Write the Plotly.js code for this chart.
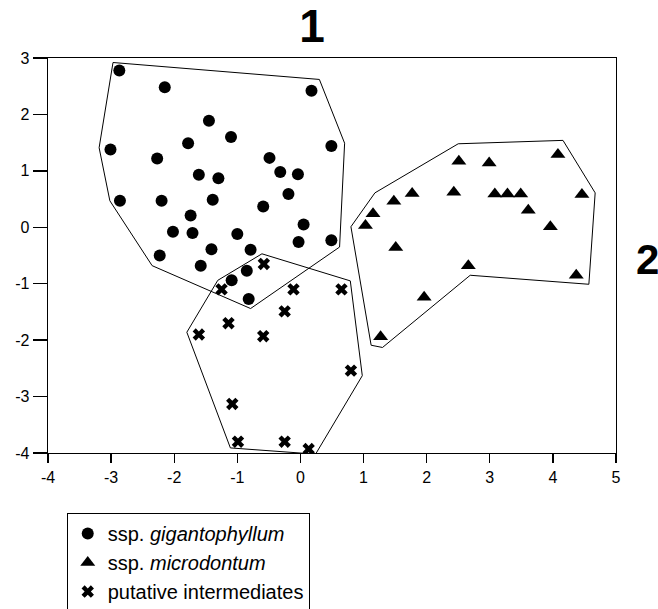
<!DOCTYPE html>
<html>
<head>
<meta charset="utf-8">
<script src="https://cdn.plot.ly/plotly-3.0.1.min.js"></script>
<style>html,body{margin:0;padding:0;background:#fff;}#chart{width:658px;height:609px;}</style>
</head>
<body>
<div id="chart"></div>
<script>
// ssp. gigantophyllum (circles)
var gigX = [-2.87,-2.15,0.175,-1.45,-1.10,-1.78,-3.01,0.49,-2.27,-0.49,-0.32,-0.04,-1.61,-1.30,-0.19,-2.86,-2.20,-1.39,-0.59,-1.74,0.05,-2.02,-1.71,-1.00,-0.03,0.49,-1.41,-0.79,-2.23,-1.58,-0.85,-1.09,-0.82];
var gigY = [2.78,2.48,2.42,1.89,1.60,1.49,1.38,1.44,1.22,1.23,0.98,0.94,0.93,0.87,0.59,0.47,0.47,0.49,0.37,0.21,0.05,-0.08,-0.10,-0.12,-0.26,-0.23,-0.39,-0.40,-0.50,-0.68,-0.77,-0.94,-1.27];
// ssp. microdontum (triangles)
var micX = [2.51,2.99,4.08,1.77,2.43,3.08,3.28,3.49,4.46,1.48,1.15,3.61,1.03,3.96,1.51,2.66,4.37,1.96,1.27];
var micY = [1.17,1.14,1.29,0.60,0.62,0.59,0.59,0.59,0.58,0.46,0.24,0.30,0.03,0.01,-0.36,-0.68,-0.85,-1.24,-1.94];
// putative intermediates (crosses)
var intX = [-0.58,-1.25,-0.11,0.65,-0.25,-1.14,-1.61,-0.59,0.80,-1.08,-0.99,-0.25,0.13];
var intY = [-0.65,-1.10,-1.10,-1.10,-1.49,-1.70,-1.90,-1.93,-2.54,-3.13,-3.80,-3.80,-3.93];
// convex hulls
var gigHullX = [-2.97,0.30,0.70,0.62,-0.79,-2.35,-3.02,-3.19,-2.97];
var gigHullY = [2.92,2.62,1.49,-0.35,-1.44,-0.68,0.47,1.41,2.92];
var micHullX = [2.50,4.16,4.67,4.57,2.69,1.30,1.12,0.80,1.18,2.50];
var micHullY = [1.48,1.54,0.61,-1.01,-0.85,-2.13,-2.09,0.01,0.61,1.48];
var intHullX = [-0.61,0.79,0.98,0.24,-1.11,-1.80,-1.31,-0.61];
var intHullY = [-0.47,-0.95,-2.63,-4.02,-3.91,-1.86,-0.94,-0.47];
// tick values and labels
var xTicks = [-4,-3,-2,-1,0,1,2,3,4,5];
var xTickText = ['-4','-3','-2','-1','0','1','2','3','4','5'];
var yTicks = [-4,-3,-2,-1,0,1,2,3];
var yTickText = ['-4','-3','-2','-1','0','1','2','3'];
var names = ['ssp. <i>gigantophyllum</i>','ssp. <i>microdontum</i>','putative intermediates'];

var FONT = '"Liberation Sans", Arial, Helvetica, sans-serif';
function hull(x,y){return {x:x,y:y,type:'scatter',mode:'lines',line:{color:'#000',width:1},showlegend:false,hoverinfo:'skip'};}
var data = [
  hull(gigHullX,gigHullY), hull(micHullX,micHullY), hull(intHullX,intHullY),
  {x:gigX,y:gigY,type:'scatter',mode:'markers',name:names[0],marker:{symbol:'circle',size:12,color:'#000'}},
  {x:micX,y:micY,type:'scatter',mode:'markers',name:names[1],marker:{symbol:'triangle-up',size:13,color:'#000'}},
  {x:intX,y:intY,type:'scatter',mode:'markers',name:names[2],marker:{symbol:'x',size:11,color:'#000',line:{width:0}}}
];
var axisCommon = {showgrid:false,zeroline:false,showline:true,linecolor:'#000',linewidth:1.3,mirror:true,
  ticks:'outside',tickcolor:'#000',tickwidth:1.3,tickfont:{family:FONT,size:16,color:'#000'},fixedrange:true};
var layout = {
  width:658,height:609,
  margin:{l:48,r:42,t:58,b:156,autoexpand:false},
  paper_bgcolor:'#fff',plot_bgcolor:'#fff',
  font:{family:FONT,color:'#000'},
  title:{text:'<b>1</b>',font:{family:FONT,size:46,color:'#000'},xref:'paper',x:0.465,xanchor:'center',yref:'container',y:0.957,yanchor:'middle'},
  xaxis:Object.assign({},axisCommon,{range:[-4,5],tickvals:xTicks,ticktext:xTickText,ticklen:9}),
  yaxis:Object.assign({},axisCommon,{range:[-4,3],tickvals:yTicks,ticktext:yTickText,ticklen:14}),
  showlegend:true,
  legend:{x:0.033,xanchor:'left',y:-0.152,yanchor:'top',bordercolor:'#000',borderwidth:1,bgcolor:'#fff',
    font:{family:FONT,size:20,color:'#000'},traceorder:'normal',itemwidth:30},
  annotations:[{text:'<b>2</b>',xref:'paper',yref:'paper',x:1.055,y:0.49,xanchor:'center',yanchor:'middle',showarrow:false,
    font:{family:FONT,size:42,color:'#000'}}]
};
Plotly.newPlot('chart',data,layout,{staticPlot:true,displayModeBar:false});
</script>
</body>
</html>
